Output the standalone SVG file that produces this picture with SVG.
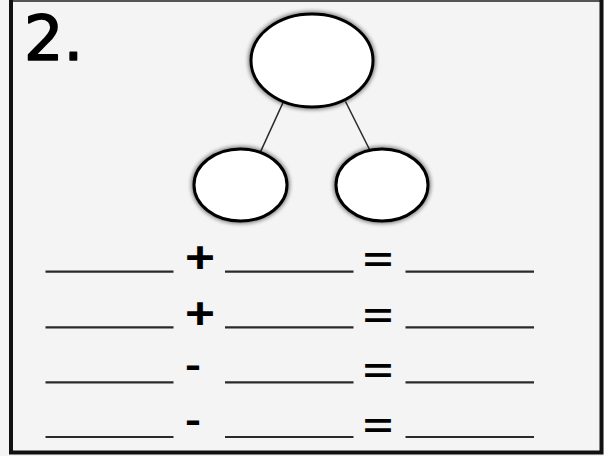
<svg xmlns="http://www.w3.org/2000/svg" width="604" height="456" viewBox="0 0 604 456">
<style>
.bg{fill:#f4f4f4}
.frame{fill:none;stroke:#111;stroke-width:4}
.bubble{fill:#fff;stroke:#000;stroke-width:3}
.glow{fill:none;stroke:#000;stroke-width:5;opacity:0.55}
.link{stroke:#2a2a2a;stroke-width:1.6}
.blank{stroke:#2a2a2a;stroke-width:2.2}
.op{font-family:"Liberation Sans",Arial,sans-serif;font-weight:bold;fill:#000}
.num{font-family:"DejaVu Sans",sans-serif;font-size:62px;fill:#000;stroke:#000;stroke-width:1.6;stroke-linejoin:round}
</style>
<defs>
<filter id="soft" x="-20%" y="-20%" width="140%" height="140%">
<feGaussianBlur stdDeviation="2.2"/>
</filter>
</defs>
<rect class="bg" x="0" y="0" width="604" height="456"/>
<line x1="11" y1="1" x2="601" y2="1" stroke="#555" stroke-width="2"/>
<path class="frame" d="M11,0 V452.5 H601.5 V0"/>
<text class="num" x="24" y="60">2.</text>

<g id="connectors">
<line class="link" x1="283.5" y1="101.5" x2="259.5" y2="154"/>
<line class="link" x1="345.5" y1="101.5" x2="370" y2="150.5"/>
</g>

<g id="node-top">
<ellipse class="glow" cx="312" cy="60.5" rx="61" ry="46.5" filter="url(#soft)"/>
<ellipse class="bubble" cx="312" cy="60.5" rx="61" ry="46.5"/>
</g>
<g id="node-left">
<ellipse class="glow" cx="240.5" cy="185" rx="46.5" ry="36" filter="url(#soft)"/>
<ellipse class="bubble" cx="240.5" cy="185" rx="46.5" ry="36"/>
</g>
<g id="node-right">
<ellipse class="glow" cx="382" cy="185" rx="46" ry="36" filter="url(#soft)"/>
<ellipse class="bubble" cx="382" cy="185" rx="46" ry="36"/>
</g>

<g id="equations">
<g id="row1">
<line class="blank" x1="45.5" y1="271.7" x2="173.5" y2="271.7"/>
<text class="op" x="185" y="273" font-size="44" textLength="30" lengthAdjust="spacingAndGlyphs">+</text>
<line class="blank" x1="225" y1="271.7" x2="353.5" y2="271.7"/>
<text class="op" x="363" y="272" font-size="35" textLength="30" lengthAdjust="spacingAndGlyphs">=</text>
<line class="blank" x1="405.5" y1="271.7" x2="534" y2="271.7"/>
</g>
<g id="row2">
<line class="blank" x1="45.5" y1="327.3" x2="173.5" y2="327.3"/>
<text class="op" x="185" y="329" font-size="44" textLength="30" lengthAdjust="spacingAndGlyphs">+</text>
<line class="blank" x1="225" y1="327.3" x2="353.5" y2="327.3"/>
<text class="op" x="363" y="327.5" font-size="35" textLength="30" lengthAdjust="spacingAndGlyphs">=</text>
<line class="blank" x1="405.5" y1="327.3" x2="534" y2="327.3"/>
</g>
<g id="row3">
<line class="blank" x1="45.5" y1="382.3" x2="173.5" y2="382.3"/>
<text class="op" x="185" y="376.5" font-size="36" textLength="16" lengthAdjust="spacingAndGlyphs">-</text>
<line class="blank" x1="225" y1="382.3" x2="353.5" y2="382.3"/>
<text class="op" x="363" y="382.5" font-size="35" textLength="30" lengthAdjust="spacingAndGlyphs">=</text>
<line class="blank" x1="405.5" y1="382.3" x2="534" y2="382.3"/>
</g>
<g id="row4">
<line class="blank" x1="45.5" y1="437" x2="173.5" y2="437"/>
<text class="op" x="185" y="431.5" font-size="36" textLength="16" lengthAdjust="spacingAndGlyphs">-</text>
<line class="blank" x1="225" y1="437" x2="353.5" y2="437"/>
<text class="op" x="363" y="437.5" font-size="35" textLength="30" lengthAdjust="spacingAndGlyphs">=</text>
<line class="blank" x1="405.5" y1="437" x2="534" y2="437"/>
</g>
</g>
</svg>
